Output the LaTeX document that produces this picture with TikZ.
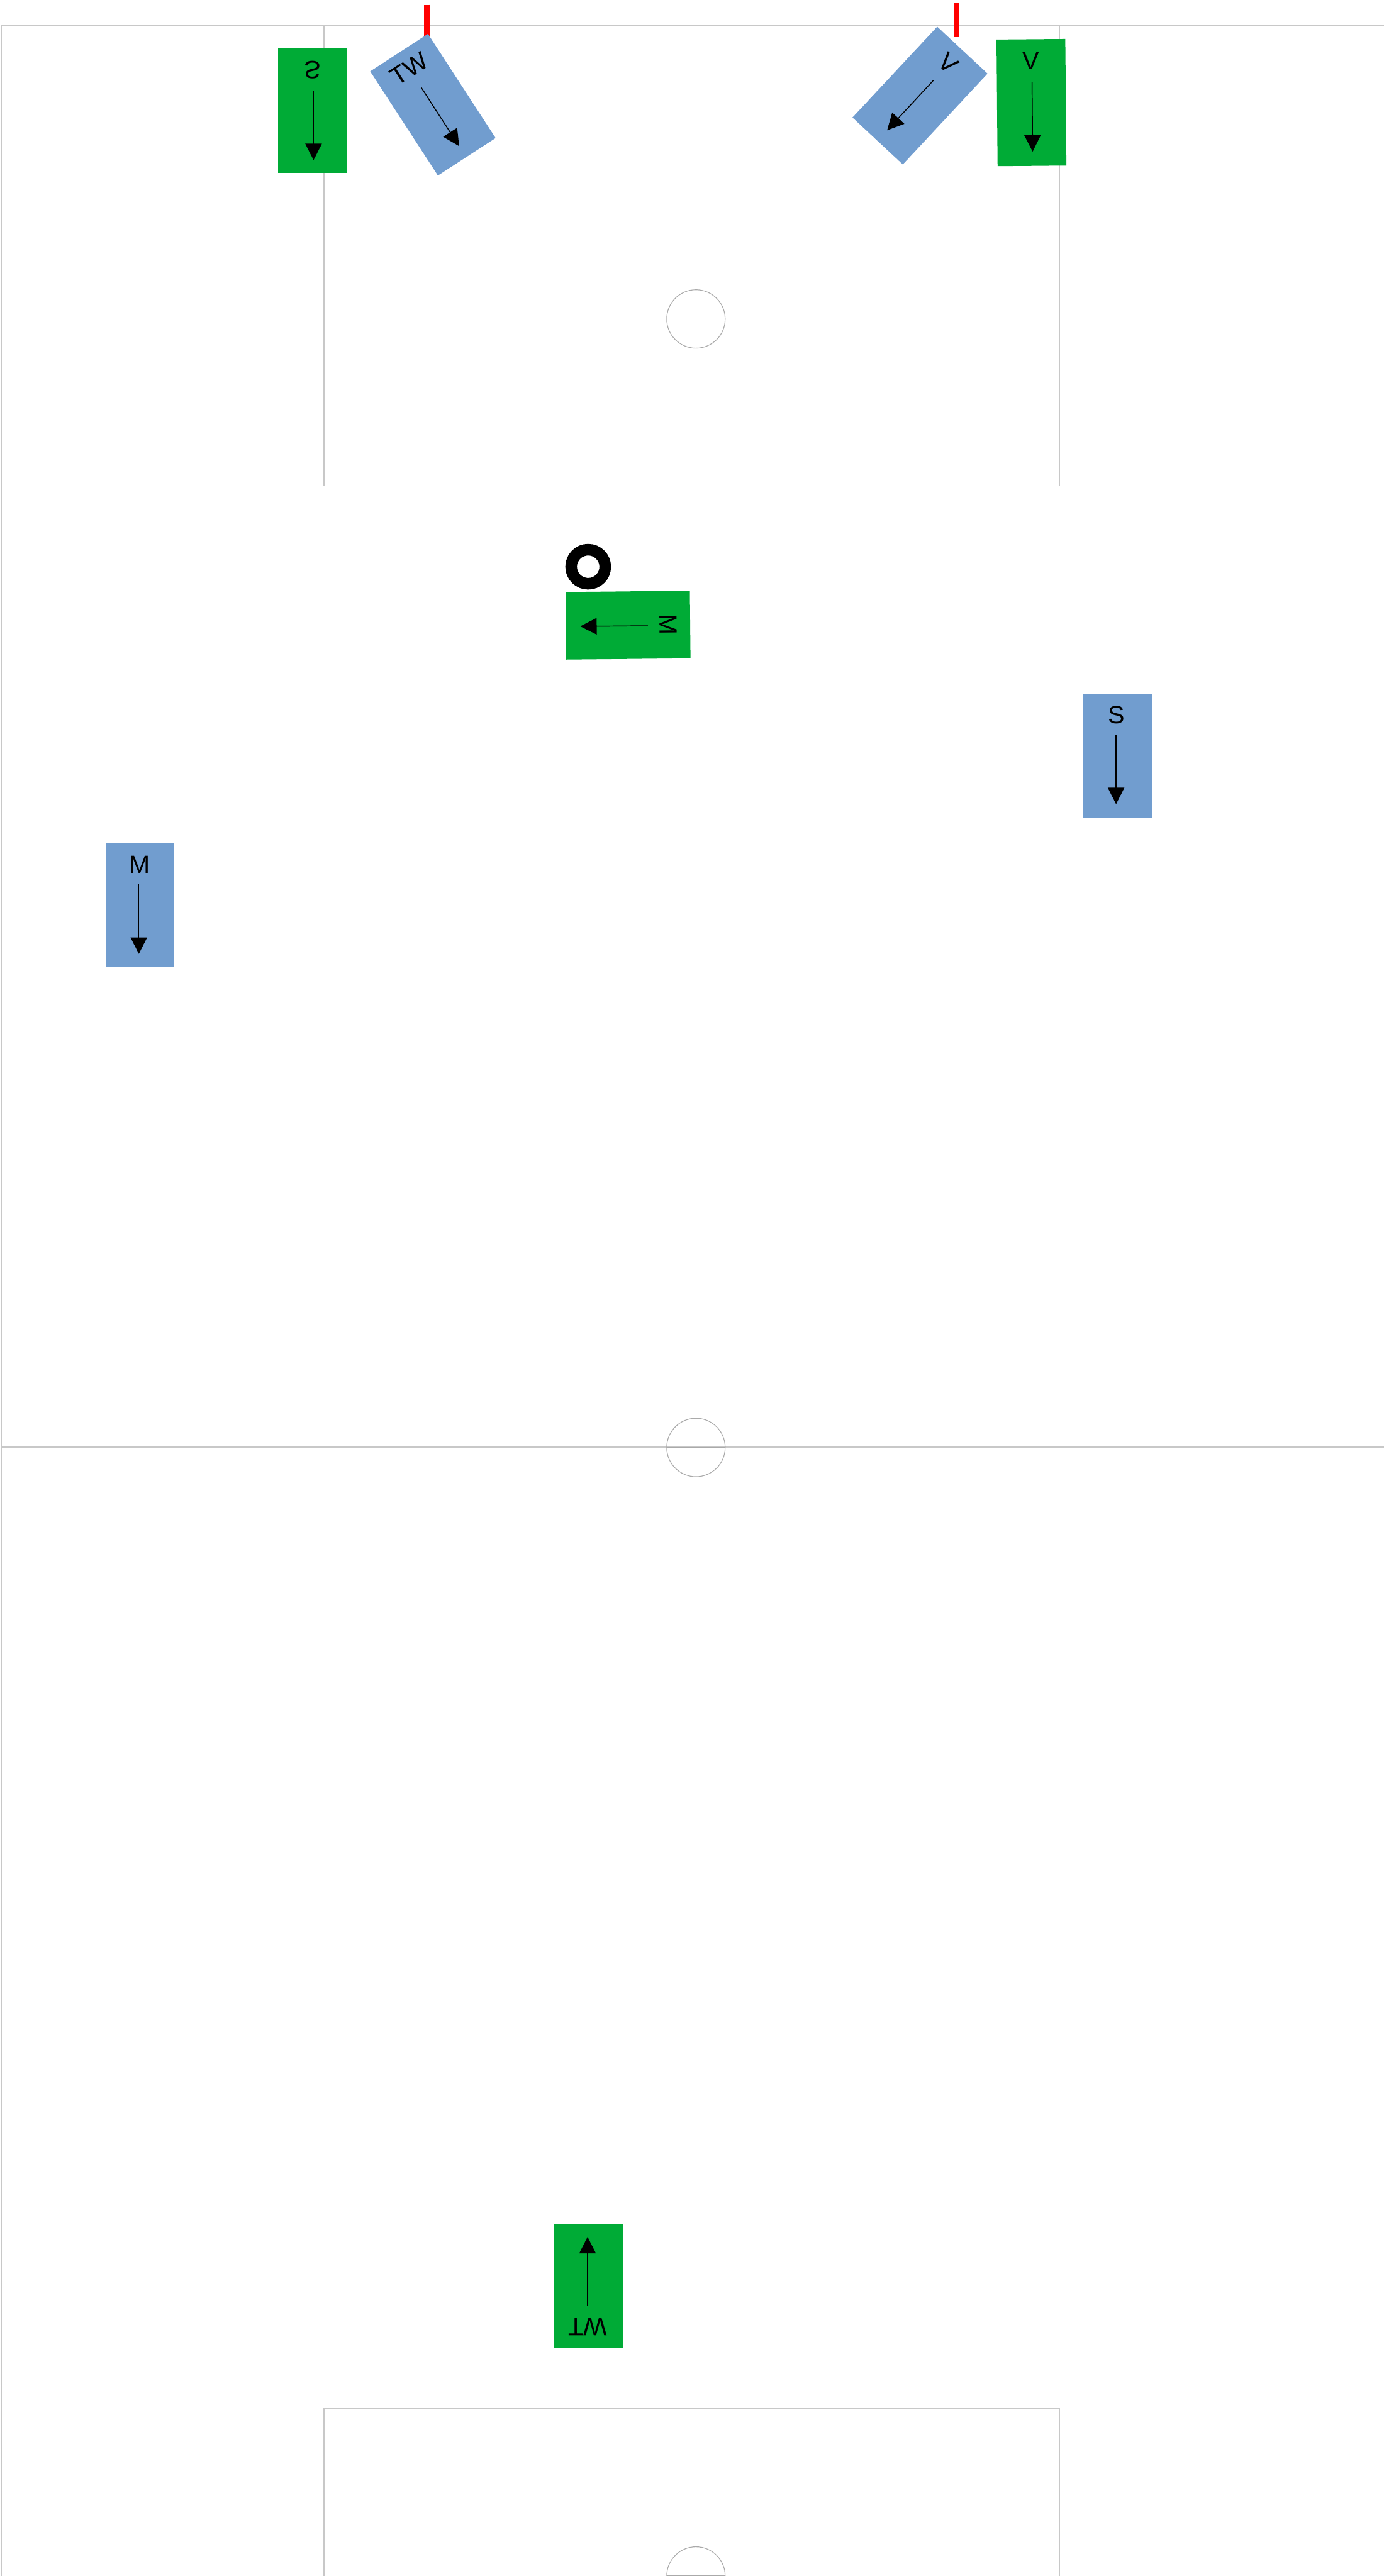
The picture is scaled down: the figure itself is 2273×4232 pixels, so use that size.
\documentclass[tikz,border=0pt]{standalone}
\usepackage{graphicx}
\usepackage{fontspec}
\setmainfont{Liberation Sans}
\usetikzlibrary{arrows.meta,positioning,calc}
\definecolor{playerblue}{RGB}{113,157,207}
\definecolor{playergreen}{RGB}{0,171,54}
\definecolor{pitchgrey}{RGB}{200,200,200}
\definecolor{markred}{RGB}{255,0,0}

\begin{document}
\begin{tikzpicture}[x=1pt,y=-1pt,font=\fontsize{41}{41}\selectfont,
 bluebox/.style={fill=playerblue,inner sep=0pt,minimum width=113pt,minimum height=204pt},
 greenbox/.style={bluebox,fill=playergreen},
 tag/.style={inner sep=0pt},
 arr/.style={-{Triangle[length=27pt,width=27pt]},line width=1.5pt,draw=black},
 pitch/.style={draw=pitchgrey,line width=1.4pt},
 spot/.style={draw=pitchgrey!85!black,line width=1.2pt},
 redmark/.style={draw=markred,line width=8.5pt}]
\useasboundingbox (0,0) rectangle (2273,4232);
\clip (0,0) rectangle (2273,4232);
% pitch
\coordinate (nw) at (2,42);
\coordinate (ne) at (2273,42);
\coordinate (sw) at (2,4232);
\coordinate (mw) at (2,2378);
\coordinate (me) at (2273,2378);
\draw[pitch] (ne) -- (nw) -- (sw);
\draw[pitch,line width=2.4pt] (mw) -- (me);
\draw[pitch] (532,42) -- (532,798) -- (1740,798) -- (1740,42);
\draw[pitch] (532,4232) -- (532,3957) -- (1740,3957) -- (1740,4232);
\foreach \y in {524,2378,4232} {
 \draw[spot] (1143,\y) circle (48);
 \draw[spot] (1143,\y-48) -- (1143,\y+48);
 \draw[spot] (1095,\y) -- (1191,\y);
}
% red marks
\coordinate (ra) at (701,8);
\coordinate (rb) at (701,60);
\coordinate (rc) at (1571,4);
\coordinate (rd) at (1571,61);
\draw[redmark] (ra) -- (rb);
\draw[redmark] (rc) -- (rd);
% ball
\node[draw=black,line width=19pt,circle,minimum size=56pt,inner sep=0pt] (ball) at (966,931) {};
% players
\node[greenbox] (sg) at (513,182) {};
\node[tag] (sgt) at (513,115) {\scalebox{1}[-1]{S}};
\node[bluebox,rotate=33] (tw) at (711,172) {};
\node[tag,rotate=33] (twt) at (672,113) {TW};
\node[bluebox,rotate=-43] (vb) at (1511,157) {};
\node[tag,rotate=-43] (vbt) at (1558,104) {V};
\node[greenbox,rotate=0.5,minimum height=208pt] (vg) at (1694,168.5) {};
\node[tag] (vgt) at (1693,100) {V};
\node[greenbox,rotate=-89.4,minimum width=111pt,minimum height=204pt] (mg) at (1031.5,1027) {};
\node[tag,rotate=-89.4] (mgt) at (1098,1026) {M};
\node[bluebox] (sb) at (1835.5,1241.5) {};
\node[tag] (sbt) at (1834,1175) {S};
\node[bluebox] (mb) at (230,1486.5) {};
\node[tag] (mbt) at (229,1420) {M};
\node[greenbox] (wg) at (966.5,3755) {};
\node[tag] (wgt) at (965,3823) {\scalebox{1}[-1]{TW}};
% arrows
\foreach \n/\xa/\ya/\xb/\yb in {a/515/150/515/263, b/692/144/754/240, c/1533/132/1457/214, d/1695/135/1696/249,
 e/1064/1028/953/1029, f/1833/1208/1833/1321, g/228/1453/228/1567, h/965/3788/965/3675} {
 \coordinate (\n0) at (\xa,\ya);
 \coordinate (\n1) at (\xb,\yb);
 \draw[arr] (\n0) -- (\n1);
}
\end{tikzpicture}
\end{document}
